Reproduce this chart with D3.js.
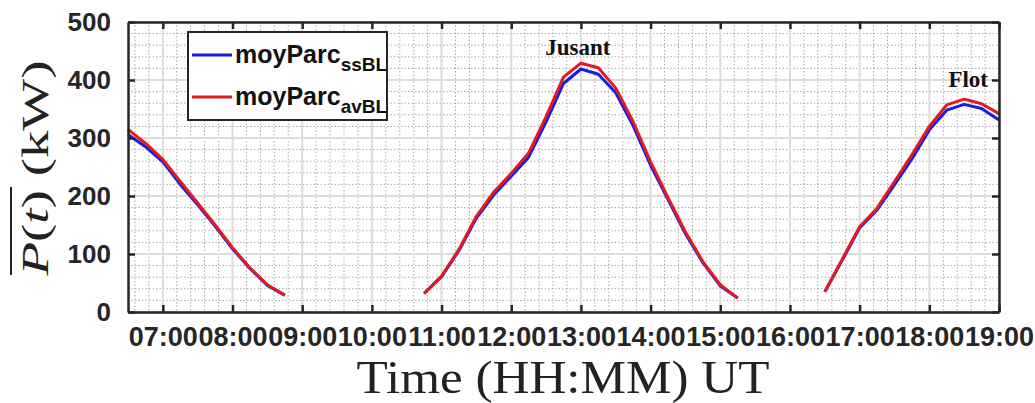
<!DOCTYPE html>
<html>
<head>
<meta charset="utf-8">
<script src="https://cdn.jsdelivr.net/npm/d3@7"></script>
<style>
  body { margin: 0; background: #fff; }
  svg { display: block; }
</style>
</head>
<body>
<div id="chart"></div>
<script>
// data: three tidal windows, values every 15 min
var seg1Times = ["06:30","06:45","07:00","07:15","07:30","07:45","08:00","08:15","08:30","08:45"];
var seg1Ss    = [306, 285, 259, 220, 185, 148, 109, 75, 46, 29];
var seg1Av    = [315, 291, 263, 225, 188, 150, 111, 76, 47, 29];

var seg2Times = ["10:45","11:00","11:15","11:30","11:45","12:00","12:15","12:30","12:45","13:00","13:15","13:30","13:45","14:00","14:15","14:30","14:45","15:00","15:15"];
var seg2Ss    = [32, 61, 106, 162, 202, 234, 267, 328, 394, 419, 410, 378, 321, 253, 194, 135, 85, 45, 24];
var seg2Av    = [32, 62, 108, 165, 207, 239, 274, 337, 405, 429, 421, 386, 328, 259, 197, 138, 87, 47, 24];

var seg3Times = ["16:30","16:45","17:00","17:15","17:30","17:45","18:00","18:15","18:30","18:45","19:00"];
var seg3Ss    = [35, 89, 145, 176, 219, 264, 314, 348, 358, 351, 331];
var seg3Av    = [35, 91, 147, 179, 225, 271, 320, 357, 367, 359, 342];

var xTicks = ["07:00","08:00","09:00","10:00","11:00","12:00","13:00","14:00","15:00","16:00","17:00","18:00","19:00"];
var yTicks = [0, 100, 200, 300, 400, 500];
var seriesNames = ["ssBL", "avBL"];
var seriesColors = ["#1a1ae6", "#e31a22"];

function toHours(s) {
  var p = s.split(":");
  return +p[0] + (+p[1]) / 60;
}

var W = 1035, H = 403;
var svg = d3.select("#chart").append("svg")
  .attr("width", W)
  .attr("height", H);

var x = d3.scaleLinear().domain([6.5, 19]).range([128, 999]);
var y = d3.scaleLinear().domain([0, 500]).range([312, 22]);

// minor grid (every 12 min, every 20 kW)
var minorX = d3.range(6.6, 19, 0.2).filter(function(h) { return Math.abs(h - Math.round(h)) > 0.01; });
var minorY = d3.range(20, 500, 20).filter(function(v) { return v % 100 != 0; });

svg.append("g")
  .attr("stroke", "#a8a8a8")
  .attr("stroke-width", 1)
  .attr("stroke-dasharray", "1.5,2")
  .selectAll("line")
  .data(minorX)
  .join("line")
  .attr("x1", function(d) { return x(d); })
  .attr("x2", function(d) { return x(d); })
  .attr("y1", y(500))
  .attr("y2", y(0));

svg.append("g")
  .attr("stroke", "#a8a8a8")
  .attr("stroke-width", 1)
  .attr("stroke-dasharray", "1.5,2")
  .selectAll("line")
  .data(minorY)
  .join("line")
  .attr("x1", x(6.5))
  .attr("x2", x(19))
  .attr("y1", function(d) { return y(d); })
  .attr("y2", function(d) { return y(d); });

// major grid
svg.append("g")
  .attr("stroke", "#dcdcdc")
  .attr("stroke-width", 2)
  .selectAll("line")
  .data(xTicks)
  .join("line")
  .attr("x1", function(d) { return x(toHours(d)); })
  .attr("x2", function(d) { return x(toHours(d)); })
  .attr("y1", y(500))
  .attr("y2", y(0));

svg.append("g")
  .attr("stroke", "#dcdcdc")
  .attr("stroke-width", 2)
  .selectAll("line")
  .data(yTicks)
  .join("line")
  .attr("x1", x(6.5))
  .attr("x2", x(19))
  .attr("y1", function(d) { return y(d); })
  .attr("y2", function(d) { return y(d); });

// curves
var line = d3.line()
  .x(function(d) { return x(d.t); })
  .y(function(d) { return y(d.v); });

function pts(times, vals) {
  return times.map(function(t, i) { return { t: toHours(t), v: vals[i] }; });
}

var segments = [
  [seg1Times, seg1Ss, seg1Av],
  [seg2Times, seg2Ss, seg2Av],
  [seg3Times, seg3Ss, seg3Av]
];

var plot = svg.append("g");
[1, 2].forEach(function(k) {
  segments.forEach(function(s) {
    plot.append("path")
      .datum(pts(s[0], s[k]))
      .attr("d", line)
      .attr("fill", "none")
      .attr("stroke", seriesColors[k - 1])
      .attr("stroke-width", 3)
      .attr("stroke-linejoin", "round");
  });
});

// axes (MATLAB style box, inward ticks)
var fmt = function(h) {
  return xTicks.find(function(s) { return toHours(s) == h; });
};

svg.append("g")
  .attr("transform", "translate(0," + y(0) + ")")
  .call(d3.axisBottom(x).tickValues(xTicks.map(toHours)).tickFormat(fmt).tickSizeInner(-7).tickSizeOuter(0).tickPadding(16))
  .call(function(g) {
    g.select(".domain").attr("stroke", "#262626").attr("stroke-width", 2.5);
    g.selectAll(".tick line").attr("stroke", "#262626").attr("stroke-width", 2.5);
    g.selectAll("text").attr("font-family", "Liberation Sans, Arial, sans-serif")
      .attr("font-size", 27).attr("font-weight", "bold").attr("fill", "#262626")
      .attr("dy", "0.68em");
  });

svg.append("g")
  .attr("transform", "translate(0," + y(500) + ")")
  .call(d3.axisTop(x).tickValues(xTicks.map(toHours)).tickFormat("").tickSizeInner(-7).tickSizeOuter(0))
  .call(function(g) {
    g.select(".domain").attr("stroke", "#262626").attr("stroke-width", 2.5);
    g.selectAll(".tick line").attr("stroke", "#262626").attr("stroke-width", 2.5);
  });

svg.append("g")
  .attr("transform", "translate(" + x(6.5) + ",0)")
  .call(d3.axisLeft(y).tickValues(yTicks).tickSizeInner(-7).tickSizeOuter(0).tickPadding(17))
  .call(function(g) {
    g.select(".domain").attr("stroke", "#262626").attr("stroke-width", 2.5);
    g.selectAll(".tick line").attr("stroke", "#262626").attr("stroke-width", 2.5);
    g.selectAll("text").attr("font-family", "Liberation Sans, Arial, sans-serif")
      .attr("font-size", 26).attr("font-weight", "bold").attr("fill", "#262626");
  });

svg.append("g")
  .attr("transform", "translate(" + x(19) + ",0)")
  .call(d3.axisRight(y).tickValues(yTicks).tickFormat("").tickSizeInner(-7).tickSizeOuter(0))
  .call(function(g) {
    g.select(".domain").attr("stroke", "#262626").attr("stroke-width", 2.5);
    g.selectAll(".tick line").attr("stroke", "#262626").attr("stroke-width", 2.5);
  });

// annotations
svg.append("text")
  .text("Jusant")
  .attr("x", x(toHours("13:00")) - 3)
  .attr("y", 55)
  .attr("text-anchor", "middle")
  .attr("font-family", "Liberation Serif, Times New Roman, serif")
  .attr("font-weight", "bold")
  .attr("font-size", 23)
  .attr("fill", "#111");

svg.append("text")
  .text("Flot")
  .attr("x", 988)
  .attr("y", 87)
  .attr("text-anchor", "end")
  .attr("font-family", "Liberation Serif, Times New Roman, serif")
  .attr("font-weight", "bold")
  .attr("font-size", 23)
  .attr("fill", "#111");

// legend
var leg = svg.append("g");
leg.append("rect")
  .attr("x", 188).attr("y", 32)
  .attr("width", 199).attr("height", 88)
  .attr("fill", "#fff")
  .attr("stroke", "#262626")
  .attr("stroke-width", 2);

seriesNames.forEach(function(name, i) {
  var ly = 55 + i * 42;
  leg.append("line")
    .attr("x1", 192).attr("x2", 232)
    .attr("y1", ly).attr("y2", ly)
    .attr("stroke", seriesColors[i])
    .attr("stroke-width", 3);
  var t = leg.append("text")
    .attr("x", 235).attr("y", ly + 8)
    .attr("font-family", "Liberation Sans, Arial, sans-serif")
    .attr("font-weight", "bold")
    .attr("font-size", 25)
    .attr("fill", "#111");
  t.append("tspan").text("moyParc");
  t.append("tspan").text(name).attr("font-size", 19).attr("dy", 8);
});

// axis titles
var yl = svg.append("text")
  .attr("transform", "translate(48,168) rotate(-90)")
  .attr("text-anchor", "middle")
  .attr("font-family", "Liberation Serif, Times New Roman, serif")
  .attr("font-size", 38)
  .attr("fill", "#222")
  .attr("textLength", 215)
  .attr("lengthAdjust", "spacingAndGlyphs");
yl.append("tspan").text("P").attr("font-style", "italic");
yl.append("tspan").text("(");
yl.append("tspan").text("t").attr("font-style", "italic");
yl.append("tspan").text(") (kW)");

svg.append("line")
  .attr("x1", 11).attr("x2", 11)
  .attr("y1", 187).attr("y2", 275)
  .attr("stroke", "#222")
  .attr("stroke-width", 2);

svg.append("text")
  .text("Time (HH:MM) UT")
  .attr("x", 563)
  .attr("y", 393)
  .attr("text-anchor", "middle")
  .attr("font-family", "Liberation Serif, Times New Roman, serif")
  .attr("font-size", 46)
  .attr("fill", "#222")
  .attr("textLength", 413)
  .attr("lengthAdjust", "spacingAndGlyphs");
</script>
</body>
</html>
